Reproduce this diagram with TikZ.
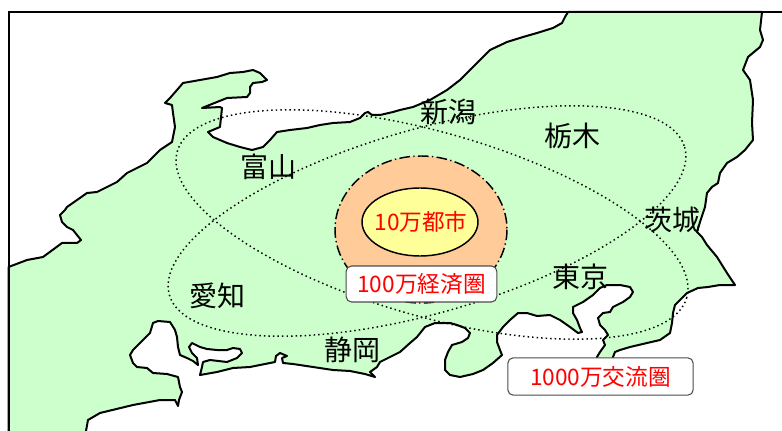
\documentclass[tikz,border=0pt]{standalone}
\usepackage{fontspec}
\newfontfamily\jp{Noto Sans CJK JP}
\definecolor{land}{HTML}{CCFFCC}
\definecolor{peach}{HTML}{FFCC99}
\definecolor{lemon}{HTML}{FFFF99}
\begin{document}
\begin{tikzpicture}[x=0.75pt,y=-0.75pt,
  coast/.style={draw=black,line width=1.5pt,line join=round,fill=land},
  frameline/.style={draw=black,line width=1.5pt},
  zone/.style={draw=black,line width=1.1pt,dash pattern=on 1.1pt off 2.3pt},
  pref/.style={font=\jp\fontsize{21}{21}\selectfont,text=black,inner sep=0pt},
  tag/.style={draw=black!70,fill=white,rounded corners=4pt,line width=0.8pt,inner sep=0pt,
              text=red,font=\jp\fontsize{17}{17}\selectfont}]
\useasboundingbox (0,0) rectangle (782,431);
\clip (0,0) rectangle (782,431);
% land
\path[coast] (568,12) -- (762,12) -- (760,30) -- (763,40) -- (760,47) -- (748,57) -- (743,70) -- (750,80)
 -- (753,100) -- (752,123) -- (753,140) -- (745,150) -- (737,157) -- (727,163) -- (720,173) -- (718,183)
 -- (712,187) -- (707,193) -- (705,207) -- (703,213) -- (700,222) -- (697,232) -- (702,237) -- (707,245)
 -- (717,257) -- (727,273) -- (735,285) -- (720,285) -- (708,287) -- (698,288) -- (687,293) -- (680,300)
 -- (675,305) -- (673,313) -- (672,323) -- (670,333) -- (660,340) -- (647,343) -- (630,347) -- (620,350)
 -- (615,352) -- (613,357) -- (612,362) -- (598,362) -- (597,357) -- (600,352) -- (605,345) -- (603,340)
 -- (608,335) -- (605,330) -- (600,325) -- (598,318) -- (603,313) -- (610,312) -- (613,307) -- (623,302)
 -- (630,297) -- (633,292) -- (630,287) -- (620,285) -- (607,285) -- (600,288) -- (593,295) -- (583,302)
 -- (573,307) -- (573,313) -- (577,320) -- (580,328) -- (582,332) -- (578,333) -- (570,327) -- (560,320)
 -- (550,315) -- (537,316) -- (527,313) -- (518,313) -- (510,320) -- (503,327) -- (497,335) -- (497,342)
 -- (500,350) -- (502,355) -- (493,363) -- (483,370) -- (473,374) -- (460,377) -- (450,375) -- (445,370)
 -- (445,360) -- (448,352) -- (452,345) -- (462,342) -- (468,338) -- (470,333) -- (465,328) -- (457,325)
 -- (450,323) -- (435,323) -- (425,327) -- (417,337) -- (410,343) -- (400,352) -- (390,357) -- (380,362)
 -- (377,367) -- (370,372) -- (375,377) -- (365,374) -- (350,371) -- (333,370) -- (313,367) -- (293,364)
 -- (283,363) -- (282,358) -- (287,356) -- (280,353) -- (276,356) -- (275,362) -- (260,365) -- (250,367)
 -- (233,368) -- (217,372) -- (200,375) -- (202,367) -- (203,362) -- (210,360) -- (227,362) -- (237,358)
 -- (242,353) -- (240,349) -- (233,348) -- (227,350) -- (217,350) -- (207,349) -- (200,347) -- (192,343)
 -- (189,347) -- (192,353) -- (197,358) -- (198,365) -- (193,361) -- (187,358) -- (180,355) -- (178,347)
 -- (177,337) -- (175,330) -- (170,322) -- (158,321) -- (153,323) -- (150,333) -- (143,340) -- (133,350)
 -- (130,355) -- (133,363) -- (137,367) -- (147,368) -- (153,373) -- (167,374) -- (178,377) -- (180,387)
 -- (182,392) -- (179,400) -- (178,406) -- (175,400) -- (160,400) -- (133,405) -- (100,413) -- (88,420)
 -- (86,431) -- (86,436) -- (8.5,436) -- (8.5,267) -- (27,260) -- (43,257) -- (62,243) -- (77,243)
 -- (81,240) -- (73,230) -- (67,227) -- (62,222) -- (60,215) -- (65,210) -- (67,207) -- (87,193)
 -- (97,192) -- (117,182) -- (127,173) -- (147,163) -- (160,150) -- (172,142) -- (175,127) -- (173,113)
 -- (172,105) -- (165,103) -- (170,98) -- (177,90) -- (183,83) -- (200,80) -- (217,77) -- (230,73)
 -- (243,72) -- (253,70) -- (260,73) -- (267,80) -- (262,82) -- (253,83) -- (250,87) -- (250,93)
 -- (247,97) -- (227,98) -- (217,102) -- (202,108) -- (220,107) -- (222,108) -- (220,127) -- (208,132)
 -- (213,137) -- (227,143) -- (240,147) -- (252,150) -- (263,147) -- (270,140) -- (277,132) -- (290,130)
 -- (307,128) -- (320,125) -- (333,123) -- (350,122) -- (360,118) -- (365,113) -- (368,112) -- (372,115)
 -- (380,115) -- (393,112) -- (400,110) -- (413,107) -- (430,100) -- (447,90) -- (460,80) -- (473,67)
 -- (483,57) -- (490,50) -- (507,42) -- (523,37) -- (537,33) -- (553,28) -- (562,23) -- (565,17) -- cycle;
% frame
\draw[frameline] (8.5,440) -- (8.5,12.5) -- (790,12.5);
% dotted zones
\draw[zone,rotate around={-16:(432,224.5)}] (432,224.5) ellipse [x radius=265,y radius=92];
\draw[zone,rotate around={16:(427,221)}] (427,221) ellipse [x radius=268,y radius=92];
% circles
\draw[fill=peach,line width=1.1pt,dash pattern=on 8pt off 2.5pt on 1pt off 2.5pt] (421,229.5) ellipse [x radius=86,y radius=73.5];
\draw[fill=lemon,line width=1.1pt] (420,222) ellipse [x radius=58,y radius=34];
% labels
\node[text=red,font=\jp\fontsize{17}{17}\selectfont,inner sep=0pt] (city) at (421,222) {10万都市};
\node[pref] (niigata) at (448,112) {新潟};
\node[pref] (tochigi) at (572,136) {栃木};
\node[pref] (toyama) at (268,167) {富山};
\node[pref] (ibaraki) at (672,220) {茨城};
\node[pref] (tokyo) at (580,277) {東京};
\node[pref] (aichi) at (217,296) {愛知};
\node[pref] (shizuoka) at (352,350) {静岡};
\node[tag,minimum width=113pt,minimum height=27pt] (econ) at (421.5,284) {100万経済圏};
\node[tag,minimum width=139pt,minimum height=28pt] (exch) at (600.5,376.5) {1000万交流圏};
\end{tikzpicture}
\end{document}
